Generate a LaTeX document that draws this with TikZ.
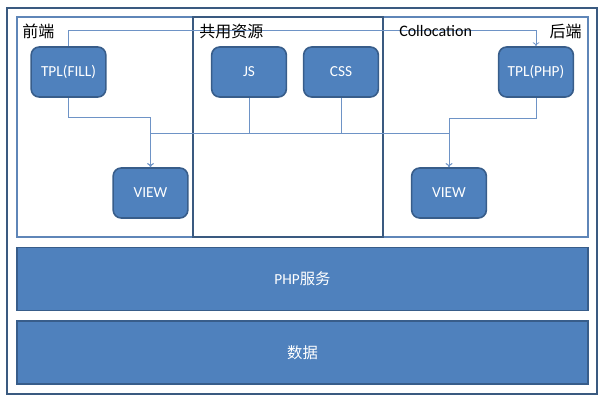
\documentclass[tikz,border=0pt]{standalone}
\usepackage{fontspec}
\setmainfont{Carlito}
\newfontfamily\cjk{Noto Sans CJK SC}
\usetikzlibrary{arrows.meta}
\definecolor{boxblue}{HTML}{4F81BD}
\definecolor{boxedge}{HTML}{385D8A}
\definecolor{framedark}{HTML}{3A5A80}
\definecolor{panelline}{HTML}{5F86B8}
\definecolor{linkblue}{HTML}{6E93C6}

\begin{document}
\begin{tikzpicture}[x=0.75pt, y=-0.75pt,
  box/.style={draw=boxedge, line width=1.2pt, fill=boxblue, rounded corners=6pt,
    minimum width=56pt, minimum height=37.5pt, inner sep=0pt, text=white,
    font=\fontsize{11.5}{13}\selectfont},
  bar/.style={draw=boxedge, line width=1.2pt, fill=boxblue,
    minimum width=428pt, minimum height=47.5pt, inner sep=0pt, text=white,
    font=\fontsize{11.5}{13}\selectfont},
  tag/.style={inner sep=0pt, font=\fontsize{12}{14}\selectfont},
  link/.style={draw=linkblue, line width=0.6pt, -{To[length=3pt, width=5pt]}}]
  \useasboundingbox (0,0) rectangle (605,401);

  % frames
  \draw[framedark, line width=1.5pt] (7,8) rectangle (597,394);
  \draw[panelline, line width=1pt] (17,17) rectangle (588,237);
  \draw[framedark, line width=1.2pt] (193,17) rectangle (383,237);

  % boxes
  \node[box] (fillTpl) at (68.5,72) {TPL(FILL)};
  \node[box] (js) at (249,72) {JS};
  \node[box] (css) at (341,72) {CSS};
  \node[box] (phpTpl) at (536,72) {TPL(PHP)};
  \node[box] (viewL) at (150.5,193) {VIEW};
  \node[box] (viewR) at (449,193) {VIEW};

  \node[bar] (phpSvc) at (302.5,279) {PHP{\cjk 服务}};
  \node[bar] (data) at (302.5,352.5) {\cjk 数据};

  % connectors
  \draw[link] (fillTpl.north) -- ++(0,-16) -| (phpTpl.north);
  \draw[link] (fillTpl.south) -- ++(0,20) -| (viewL.north);
  \draw[link] (phpTpl.south) -- ++(0,21) -| (viewR.north);
  \draw[link] (js.south) -- ++(0,36) -| (viewR.north);
  \draw[link] (css.south) -- ++(0,36) -| (viewL.north);

  % titles
  \node[tag, anchor=west] (feTitle) at (22,31) {\cjk 前端};
  \node[tag, anchor=west] (shareTitle) at (199,31) {\cjk 共用资源};
  \node[tag, anchor=west] (colTitle) at (399,31) {Collocation};
  \node[tag, anchor=east] (beTitle) at (582,31) {\cjk 后端};
\end{tikzpicture}
\end{document}
